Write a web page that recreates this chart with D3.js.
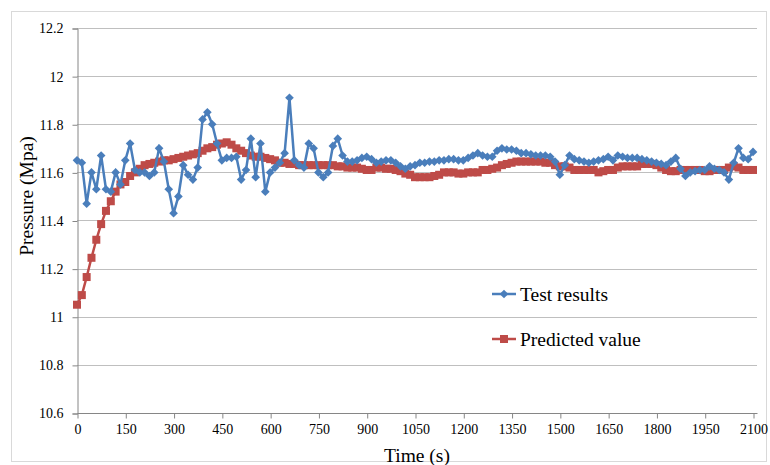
<!DOCTYPE html>
<html>
<head>
<meta charset="utf-8">
<script src="https://cdn.jsdelivr.net/npm/d3@7"></script>
<style>
  body { margin: 0; background: #fff; }
  svg { display: block; font-family: "Liberation Serif", "Times New Roman", serif; }
  .tick text { font-family: "Liberation Serif", "Times New Roman", serif; }
</style>
</head>
<body>
<svg id="chart"></svg>
<script>
// Sample times (s)
const times = [0, 15, 30, 45, 60, 75, 90, 105, 120, 135, 150, 165, 180, 195, 210, 225, 240, 255, 270, 285,
  300, 315, 330, 345, 360, 375, 390, 405, 420, 435, 450, 465, 480, 495, 510, 525, 540, 555, 570, 585,
  600, 615, 630, 645, 660, 675, 690, 705, 720, 735, 750, 765, 780, 795, 810, 825, 840, 855, 870, 885,
  900, 915, 930, 945, 960, 975, 990, 1005, 1020, 1035, 1050, 1065, 1080, 1095, 1110, 1125, 1140, 1155, 1170, 1185,
  1200, 1215, 1230, 1245, 1260, 1275, 1290, 1305, 1320, 1335, 1350, 1365, 1380, 1395, 1410, 1425, 1440, 1455, 1470, 1485,
  1500, 1515, 1530, 1545, 1560, 1575, 1590, 1605, 1620, 1635, 1650, 1665, 1680, 1695, 1710, 1725, 1740, 1755, 1770, 1785,
  1800, 1815, 1830, 1845, 1860, 1875, 1890, 1905, 1920, 1935, 1950, 1965, 1980, 1995, 2010, 2025, 2040, 2055, 2070, 2085, 2100];

// Test results (MPa)
const testResults = [11.65, 11.64, 11.47, 11.60, 11.53, 11.67, 11.53, 11.52, 11.60, 11.55,
  11.65, 11.72, 11.61, 11.60, 11.60, 11.585, 11.60, 11.70, 11.645, 11.53,
  11.43, 11.50, 11.63, 11.59, 11.57, 11.62, 11.82, 11.85, 11.80, 11.72,
  11.65, 11.66, 11.66, 11.665, 11.57, 11.61, 11.74, 11.58, 11.72, 11.52,
  11.60, 11.62, 11.64, 11.68, 11.91, 11.65, 11.63, 11.62, 11.72, 11.70,
  11.60, 11.58, 11.60, 11.71, 11.74, 11.67, 11.645, 11.645, 11.65, 11.66,
  11.665, 11.655, 11.64, 11.645, 11.65, 11.65, 11.64, 11.625, 11.615, 11.625,
  11.63, 11.64, 11.64, 11.645, 11.645, 11.65, 11.65, 11.655, 11.655, 11.65,
  11.65, 11.66, 11.67, 11.68, 11.67, 11.665, 11.665, 11.69, 11.70, 11.695,
  11.695, 11.69, 11.68, 11.68, 11.675, 11.67, 11.67, 11.67, 11.665, 11.645,
  11.59, 11.63, 11.67, 11.655, 11.65, 11.645, 11.64, 11.645, 11.65, 11.655,
  11.665, 11.65, 11.67, 11.665, 11.66, 11.66, 11.66, 11.655, 11.65, 11.645,
  11.64, 11.635, 11.63, 11.645, 11.66, 11.615, 11.585, 11.60, 11.605, 11.61,
  11.61, 11.625, 11.615, 11.61, 11.60, 11.57, 11.64, 11.70, 11.66, 11.655, 11.685];

// Predicted value (MPa)
const predictedValues = [11.05, 11.09, 11.165, 11.245, 11.32, 11.385, 11.44, 11.48, 11.52, 11.55,
  11.56, 11.585, 11.60, 11.615, 11.63, 11.635, 11.64, 11.645, 11.65, 11.65,
  11.655, 11.66, 11.665, 11.67, 11.675, 11.68, 11.69, 11.70, 11.705, 11.715,
  11.72, 11.725, 11.715, 11.70, 11.69, 11.68, 11.67, 11.665, 11.665, 11.66,
  11.655, 11.65, 11.64, 11.64, 11.635, 11.635, 11.63, 11.63, 11.63, 11.63,
  11.63, 11.63, 11.63, 11.63, 11.625, 11.625, 11.62, 11.62, 11.62, 11.615,
  11.61, 11.61, 11.62, 11.62, 11.615, 11.615, 11.61, 11.605, 11.595, 11.59,
  11.58, 11.58, 11.58, 11.58, 11.585, 11.59, 11.60, 11.60, 11.60, 11.595,
  11.595, 11.60, 11.60, 11.60, 11.61, 11.61, 11.615, 11.62, 11.63, 11.635,
  11.64, 11.645, 11.645, 11.645, 11.645, 11.645, 11.645, 11.64, 11.64, 11.63,
  11.625, 11.625, 11.62, 11.61, 11.61, 11.61, 11.61, 11.61, 11.60, 11.605,
  11.61, 11.61, 11.62, 11.625, 11.625, 11.625, 11.625, 11.635, 11.635, 11.635,
  11.63, 11.62, 11.61, 11.605, 11.605, 11.61, 11.61, 11.61, 11.61, 11.61,
  11.605, 11.605, 11.61, 11.61, 11.61, 11.62, 11.625, 11.62, 11.61, 11.61, 11.61];

const xTicks = [0, 150, 300, 450, 600, 750, 900, 1050, 1200, 1350, 1500, 1650, 1800, 1950, 2100];
const yTicks = [10.6, 10.8, 11, 11.2, 11.4, 11.6, 11.8, 12, 12.2];

const width = 770, height = 465;
const plot = { left: 77, right: 757, top: 28, bottom: 413 };

const svg = d3.select("#chart")
    .attr("width", width)
    .attr("height", height);

// Khung ngoài của biểu đồ
svg.append("rect")
    .attr("x", 11.5).attr("y", 11.5)
    .attr("width", 755).attr("height", 450)
    .attr("fill", "#fff")
    .attr("stroke", "#d9d9d9");

const x = d3.scaleLinear().domain([0, 2100]).range([plot.left, 753]);
const y = d3.scaleLinear().domain([10.6, 12.2]).range([plot.bottom, plot.top]);

// Lưới ngang
svg.append("g")
    .selectAll("line")
    .data(yTicks.slice(1))
    .enter().append("line")
    .attr("x1", plot.left).attr("x2", plot.right)
    .attr("y1", d => Math.round(y(d)) + 0.5).attr("y2", d => Math.round(y(d)) + 0.5)
    .attr("stroke", "#bfbfbf")
    .attr("stroke-width", 1);

// Trục Y
const yAxis = svg.append("g")
    .attr("transform", `translate(${plot.left + 0.5},0.5)`)
    .call(d3.axisLeft(y).tickValues(yTicks).tickSize(5).tickPadding(9).tickFormat(d3.format("~g")));
yAxis.attr("font-family", "Liberation Serif").attr("font-size", 14);
yAxis.select(".domain").attr("stroke", "#868686");
yAxis.selectAll(".tick line").attr("stroke", "#868686");
yAxis.selectAll(".tick text").attr("fill", "#000");

// Trục X
const xAxis = svg.append("g")
    .attr("transform", `translate(0.5,${plot.bottom + 0.5})`)
    .call(d3.axisBottom(x).tickValues(xTicks).tickSize(5).tickPadding(6)
        .tickSizeOuter(0).tickFormat(d3.format("d")));
xAxis.attr("font-family", "Liberation Serif").attr("font-size", 14);
xAxis.select(".domain").attr("d", `M${plot.left},0H${plot.right}`).attr("stroke", "#868686");
xAxis.selectAll(".tick line").attr("stroke", "#868686");
xAxis.selectAll(".tick text").attr("fill", "#000");

const blue = "#4a7ebb", red = "#be4b48";

const testData = times.map((t, i) => ({ t: t, v: testResults[i] }));
const predData = times.map((t, i) => ({ t: t, v: predictedValues[i] }));

const line = d3.line().x(d => x(d.t)).y(d => y(d.v));

// Đường dự đoán
svg.append("path")
    .datum(predData)
    .attr("d", line)
    .attr("fill", "none")
    .attr("stroke", red)
    .attr("stroke-width", 2.5);

svg.append("g")
    .selectAll("rect")
    .data(predData)
    .enter().append("rect")
    .attr("x", d => x(d.t) - 4)
    .attr("y", d => y(d.v) - 4)
    .attr("width", 8).attr("height", 8)
    .attr("fill", red);

// Đường kết quả thử nghiệm
svg.append("path")
    .datum(testData)
    .attr("d", line)
    .attr("fill", "none")
    .attr("stroke", blue)
    .attr("stroke-width", 2.5);

const diamond = d3.symbol().type(d3.symbolDiamond2).size(48);
svg.append("g")
    .selectAll("path")
    .data(testData)
    .enter().append("path")
    .attr("d", diamond)
    .attr("transform", d => `translate(${x(d.t)},${y(d.v)})`)
    .attr("fill", blue);

// Tên trục
svg.append("text")
    .attr("x", 417).attr("y", 462)
    .attr("text-anchor", "middle")
    .attr("font-size", 19.5)
    .text("Time (s)");

svg.append("text")
    .attr("transform", "translate(33,196) rotate(-90)")
    .attr("text-anchor", "middle")
    .attr("font-size", 19.5)
    .text("Pressure (Mpa)");

// Chú thích
const legend = [
    { name: "Test results", color: blue, y: 294, shape: "diamond" },
    { name: "Predicted value", color: red, y: 339, shape: "square" }
];
legend.forEach(item => {
    svg.append("line")
        .attr("x1", 492).attr("x2", 516)
        .attr("y1", item.y).attr("y2", item.y)
        .attr("stroke", item.color)
        .attr("stroke-width", 2.5);
    if (item.shape === "diamond") {
        svg.append("path")
            .attr("d", diamond)
            .attr("transform", `translate(504,${item.y})`)
            .attr("fill", item.color);
    } else {
        svg.append("rect")
            .attr("x", 500).attr("y", item.y - 4)
            .attr("width", 8).attr("height", 8)
            .attr("fill", item.color);
    }
    svg.append("text")
        .attr("x", 520).attr("y", item.y + 6.5)
        .attr("font-size", 19.5)
        .text(item.name);
});
</script>
</body>
</html>
